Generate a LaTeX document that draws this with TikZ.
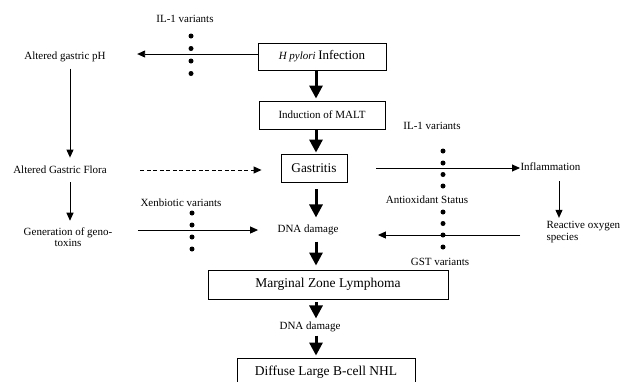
\documentclass[tikz,border=0pt]{standalone}
\usepackage{fontspec}
\setmainfont{Liberation Serif}
\usepackage{tikz}
\usetikzlibrary{arrows.meta}
\usetikzlibrary{calc}

\tikzset{
  box/.style={draw=black, line width=0.9pt, inner sep=0pt},
  txt/.style={font=\fontsize{11}{11.6}\selectfont, align=center},
  big/.style={font=\fontsize{13.3}{15}\selectfont},
  thin arrow/.style={-{Triangle[length=8pt,width=7pt]}, line width=0.9pt},
  fat arrow/.style={-{Triangle[length=13pt,width=13pt]}, line width=3pt},
}

\begin{document}
\begin{tikzpicture}[x=1pt,y=-1pt]
    \useasboundingbox (0,0) rectangle (629,381);
    % main column
    \node[box, minimum width=128, minimum height=27] (hp) at (322,56.5)
      {{\fontsize{11}{13}\selectfont\itshape H pylori} {\fontsize{13}{15}\selectfont Infection}};
    \node[box, txt, minimum width=126, minimum height=28] (malt) at (322,115) {Induction of MALT};
    \node[box, big, minimum width=66, minimum height=28] (gas) at (314,168) {Gastritis};
    \node[txt] (dna1) at (308,230) {DNA damage};
    \node[box, font=\fontsize{13.5}{15}\selectfont, minimum width=240, minimum height=29] (mzl) at (328,284.5) {Marginal Zone Lymphoma};
    \node[txt] (dna2) at (310,327) {DNA damage};
    \node[box, font=\fontsize{13.5}{15}\selectfont, minimum width=178, minimum height=28] (dlb) at (326,372) {Diffuse Large B-cell NHL};
    % left column
    \node[txt] (ph) at (65,57) {Altered gastric pH};
    \node[txt] (flora) at (60,170) {Altered Gastric Flora};
    \node[txt] (gen) at (68,237) {Generation of geno-\\toxins};
    % right side
    \node[txt, anchor=west] (infl) at (517,167) {Inflammation};
    \node[txt, anchor=west, align=left] (ros) at (543,232) {Reactive oxygen\\species};
    % modifiers
    \node[txt] (ilA) at (185,19) {IL-1 variants};
    \node[txt] (ilB) at (432,126) {IL-1 variants};
    \node[txt] (xeno) at (181,203) {Xenbiotic variants};
    \node[txt] (antiox) at (427,200) {Antioxidant Status};
    \node[txt] (gst) at (440,262) {GST variants};
    \coordinate (axis) at (316,0);
    \coordinate (lcol) at (70,0);
    \coordinate (rcol) at (559,0);
    % dotted barriers
    \foreach \y in {36,48.5,61,73.5} \fill (191,\y) circle (2.5pt);
    \foreach \y in {213,225,237,249} \fill (192,\y) circle (2.5pt);
    \foreach \y in {151,163,174.5,186,212,223.5,235,247} \fill (443,\y) circle (2.5pt);
    % main path
    \path [fat arrow, shorten >=2pt] (hp.south -| axis) edge (malt.north -| axis);
    \path [fat arrow, shorten >=1pt] (malt.south -| axis) edge (gas.north -| axis);
    \path [fat arrow, shorten <=7pt, shorten >=4pt] (gas.south -| axis) edge (dna1.north -| axis);
    \path [fat arrow, shorten <=3pt, shorten >=4pt] (dna1.south -| axis) edge (mzl.north -| axis);
    \path [fat arrow, shorten <=3pt] (mzl.south -| axis) edge (dna2.north -| axis);
    \path [fat arrow, shorten >=2pt] (dna2.south -| axis) edge (dlb.north -| axis);
    % side paths
    \path [thin arrow, shorten >=28pt] ([yshift=2.5pt]hp.west) edge ([yshift=2.5pt]hp.west -| ph.east);
    \path [thin arrow, shorten <=3pt, shorten >=5pt] (ph.south -| lcol) edge (flora.north -| lcol);
    \path [thin arrow, shorten <=5pt, shorten >=3pt] (flora.south -| lcol) edge (gen.north -| lcol);
    \path [thin arrow, dashed, dash pattern=on 4pt off 2.5pt, shorten <=30pt, shorten >=19pt] (flora.east) edge (flora.east -| gas.west);
    \path [thin arrow, shorten <=22pt, shorten >=16pt] (gen.east |- dna1.west) edge (dna1.west);
    \path [thin arrow, shorten <=29pt, shorten >=-3pt] (gas.east) edge (gas.east -| infl.west);
    \path [thin arrow, shorten <=7pt] (infl.south -| rcol) edge (ros.north -| rcol);
    \path [thin arrow, shorten <=23pt, shorten >=36pt] ([yshift=-3pt]ros.west) edge ([yshift=-3pt]ros.west -| dna1.east);
\end{tikzpicture}
\end{document}
